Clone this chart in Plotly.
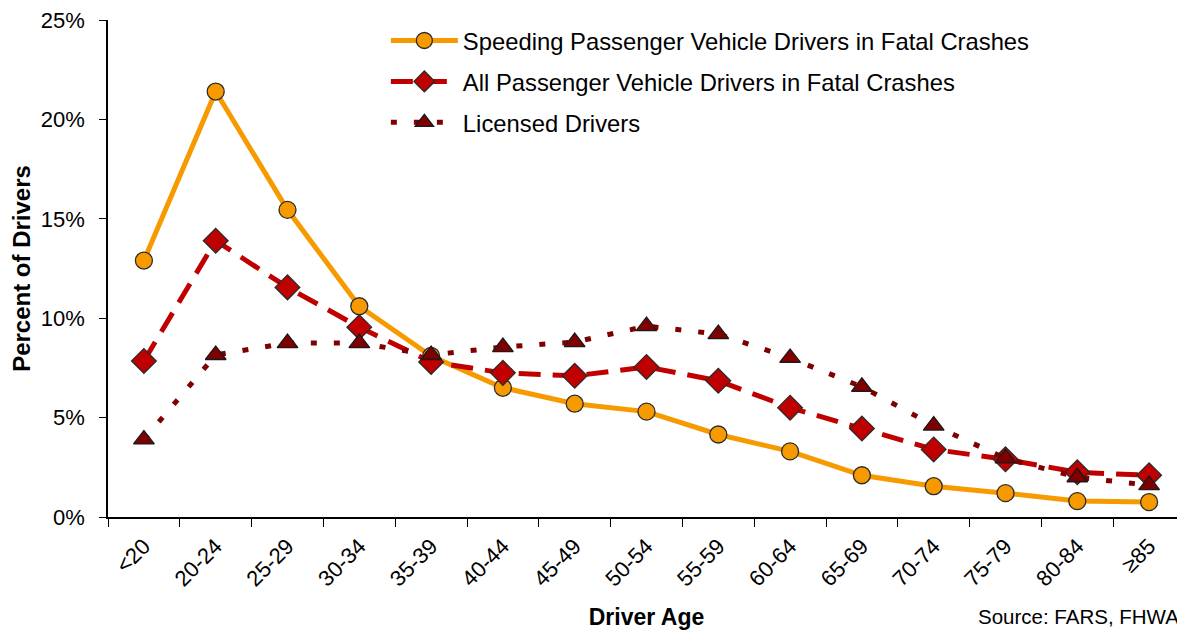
import plotly.graph_objects as go

ages = ["<20", "20-24", "25-29", "30-34", "35-39", "40-44", "45-49", "50-54",
        "55-59", "60-64", "65-69", "70-74", "75-79", "80-84", "≥85"]
speeding = [12.9, 21.4, 15.45, 10.6, 8.1, 6.5, 5.7, 5.3, 4.15, 3.3, 2.1, 1.55, 1.2, 0.8, 0.75]
all_drivers = [7.85, 13.9, 11.55, 9.55, 7.8, 7.25, 7.1, 7.55, 6.85, 5.5, 4.45, 3.4, 2.9, 2.25, 2.1]
licensed = [3.9, 8.15, 8.75, 8.75, 8.15, 8.55, 8.8, 9.6, 9.2, 8.0, 6.55, 4.6, 2.95, 2.0, 1.6]

FONT = "Liberation Sans, Arial, sans-serif"

fig = go.Figure()
fig.add_trace(go.Scatter(
    x=ages, y=speeding, mode="lines+markers", legendgroup="a",
    name="Speeding Passenger Vehicle Drivers in Fatal Crashes",
    line=dict(color="#F79A00", width=5),
    marker=dict(symbol="circle", size=17, color="#F79A00",
                line=dict(color="#2b2b2b", width=1.3))))
fig.add_trace(go.Scatter(
    x=ages, y=all_drivers, mode="lines+markers", legendgroup="b",
    name="All Passenger Vehicle Drivers in Fatal Crashes",
    line=dict(color="#C00000", width=5, dash="22px,12px"),
    marker=dict(symbol="diamond", size=19, color="#C00000",
                line=dict(color="#2b2b2b", width=1.3))))
fig.add_trace(go.Scatter(
    x=ages, y=licensed, mode="lines+markers", legendgroup="c",
    name="Licensed Drivers",
    line=dict(color="#7F0000", width=5, dash="6px,17px"),
    marker=dict(symbol="triangle-up", size=18, color="#7F0000",
                line=dict(color="#1a1a1a", width=1.3))))

# page body has an 8px margin, so the figure is sized/offset to compensate
fig.update_layout(
    width=1177, height=622,
    margin=dict(l=100, r=0, t=12, b=113),
    plot_bgcolor="white", paper_bgcolor="white",
    font=dict(family=FONT, color="#000000", size=22),
    showlegend=True,
    legend=dict(x=0.258, y=1.003, xanchor="left", yanchor="top",
                font=dict(size=23.8, family=FONT), bgcolor="rgba(0,0,0,0)",
                itemwidth=67, tracegroupgap=7),
    xaxis=dict(
        type="category", range=[-0.5, 14.5],
        showline=True, linecolor="#000000", linewidth=1.5,
        ticks="outside", ticklen=8, tickcolor="#000000", tickson="boundaries",
        tickangle=-45, tickfont=dict(size=22), ticklabelstandoff=6,
        showgrid=False, zeroline=False,
        title=dict(text="<b>Driver Age</b>", font=dict(size=23), standoff=19)),
    yaxis=dict(
        range=[0, 25], tickvals=[0, 5, 10, 15, 20, 25],
        ticktext=["0%", "5%", "10%", "15%", "20%", "25%"],
        showline=True, linecolor="#000000", linewidth=1.5,
        ticks="outside", ticklen=7, tickcolor="#000000",
        tickfont=dict(size=22), ticklabelstandoff=10, ticklabeloverflow="allow",
        showgrid=False, zeroline=False,
        title=dict(text="<b>Percent of Drivers</b>", font=dict(size=24), standoff=10)),
)

fig.add_annotation(text="Source: FARS, FHWA", xref="paper", yref="paper",
                   x=0.9965, y=-0.201, xanchor="right", yanchor="middle",
                   showarrow=False, font=dict(size=20.5, family=FONT))

fig.write_html("out.html")
